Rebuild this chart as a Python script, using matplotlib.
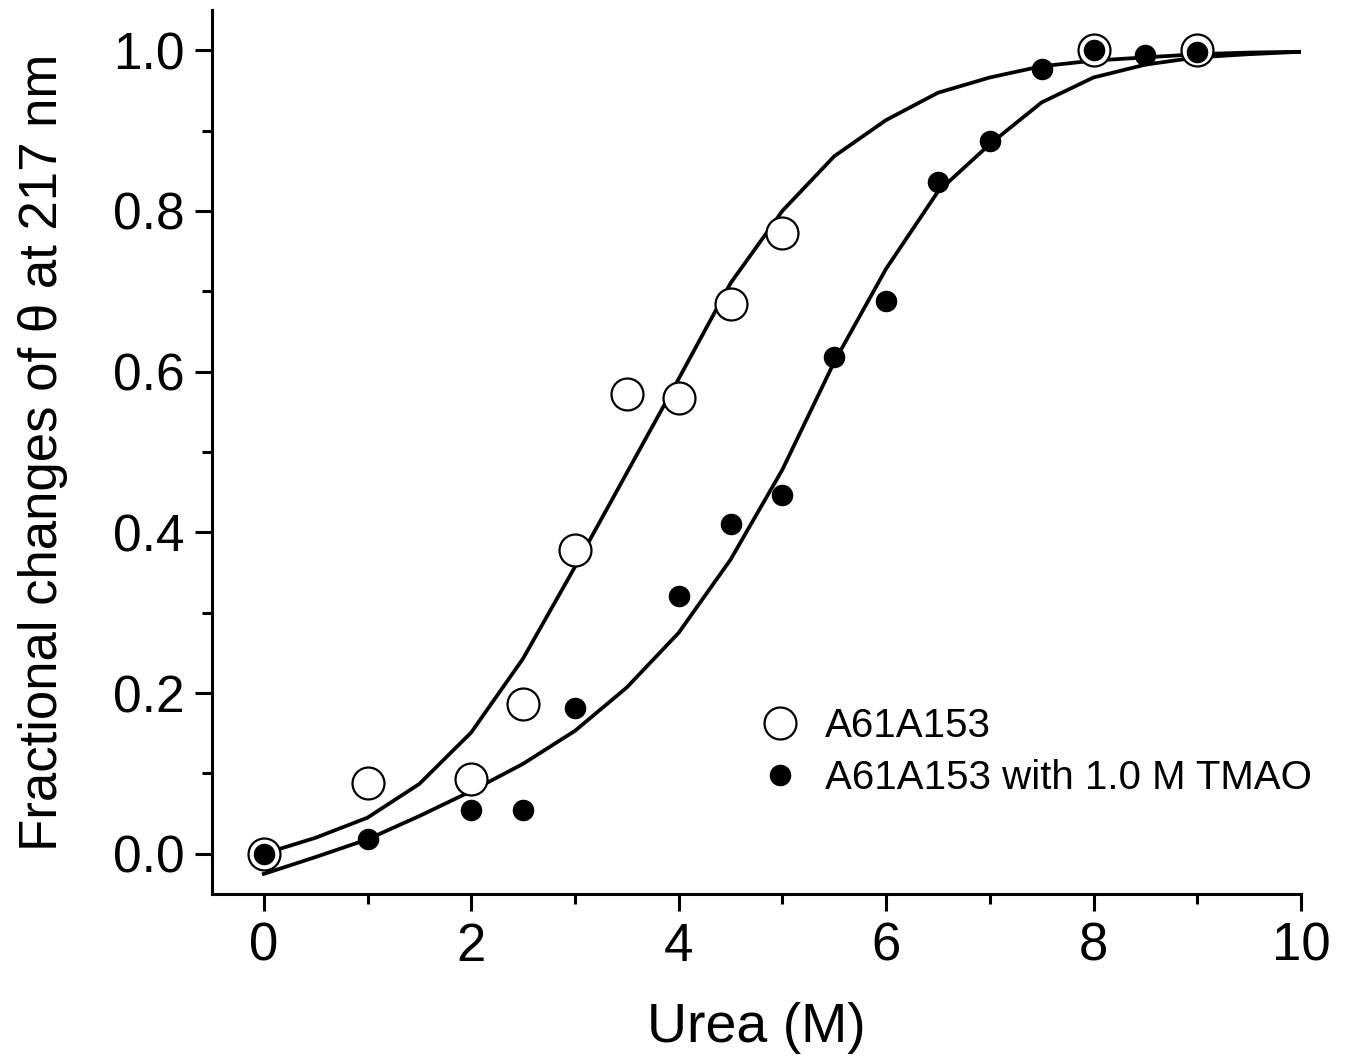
import matplotlib
matplotlib.use("Agg")
import matplotlib.pyplot as plt
from matplotlib.ticker import MultipleLocator

plt.rcParams["font.family"] = ["Liberation Sans", "DejaVu Sans"]

# measured points
urea_open = [0, 1, 2, 2.5, 3, 3.5, 4, 4.5, 5, 8, 9]
frac_open = [0.0, 0.088, 0.093, 0.186, 0.378, 0.572, 0.567, 0.684, 0.773, 1.0, 1.0]

urea_tmao = [0, 1, 2, 2.5, 3, 4, 4.5, 5, 5.5, 6, 6.5, 7, 7.5, 8, 8.5, 9]
frac_tmao = [0.0, 0.019, 0.055, 0.054, 0.181, 0.321, 0.410, 0.447, 0.618,
             0.688, 0.836, 0.887, 0.977, 1.0, 0.994, 0.998]

# fitted curves
fit_x = [0, 0.5, 1, 1.5, 2, 2.5, 3, 3.5, 4, 4.5, 5, 5.5, 6, 6.5, 7, 7.5,
         8, 8.5, 9, 9.5, 10]
fit_open = [0.0, 0.020, 0.045, 0.087, 0.151, 0.243, 0.357, 0.474, 0.591,
            0.710, 0.800, 0.868, 0.913, 0.947, 0.966, 0.980, 0.987, 0.991,
            0.995, 0.997, 0.998]
fit_tmao = [-0.025, -0.004, 0.018, 0.047, 0.078, 0.112, 0.153, 0.207, 0.275,
            0.366, 0.478, 0.612, 0.728, 0.824, 0.883, 0.935, 0.966, 0.982,
            0.991, 0.995, 0.998]

label_open = "A61A153"
label_tmao = "A61A153 with 1.0 M TMAO"

fig = plt.figure(figsize=(13.56, 10.61), dpi=100)
ax = fig.add_axes([0.1563, 0.1574, 0.8031, 0.8332])

ax.plot(fit_x, fit_open, color="black", lw=2.7, zorder=2)
ax.plot(fit_x, fit_tmao, color="black", lw=2.7, zorder=2)
ax.plot(urea_open, frac_open, "o", ms=23, mfc="white", mec="black", mew=1.6,
        label=label_open, zorder=3)
ax.plot(urea_tmao, frac_tmao, "o", ms=14.5, mfc="black", mec="black",
        label=label_tmao, zorder=4)

ax.set_xlim(-0.5, 10)
ax.set_ylim(-0.05, 1.05)
ax.xaxis.set_major_locator(MultipleLocator(2))
ax.xaxis.set_minor_locator(MultipleLocator(1))
ax.yaxis.set_major_locator(MultipleLocator(0.2))
ax.yaxis.set_minor_locator(MultipleLocator(0.1))
ax.yaxis.set_major_formatter(plt.FuncFormatter(lambda v, p: f"{v:.1f}"))

for side in ("top", "right"):
    ax.spines[side].set_visible(False)
for side in ("left", "bottom"):
    ax.spines[side].set_linewidth(2.2)

ax.tick_params(which="major", direction="out", length=12, width=2.2,
               labelsize=37, pad=8)
ax.tick_params(which="minor", direction="out", length=7, width=2.2)
ax.tick_params(axis="x", which="major", labelsize=38)

ax.set_xlabel("Urea (M)", fontsize=40, labelpad=22)
ax.set_ylabel("Fractional changes of θ at 217 nm", fontsize=38, labelpad=32)

ax.legend(loc="upper left", bbox_to_anchor=(0.485, 0.23), frameon=False,
          fontsize=29, handletextpad=0.5, borderaxespad=0, labelspacing=0.35,
          markerscale=1.0, handlelength=1.2)

fig.savefig("out.png", dpi=100)
